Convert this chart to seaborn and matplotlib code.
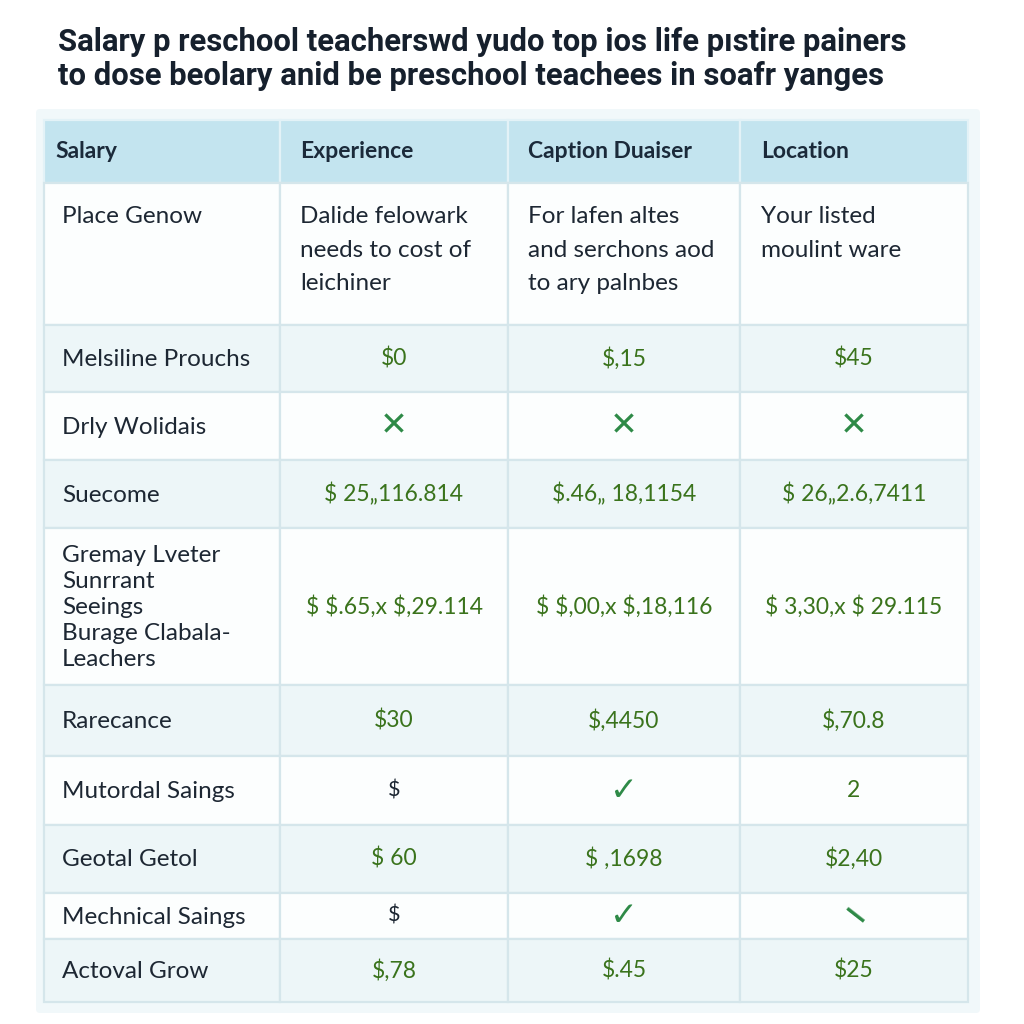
import matplotlib

matplotlib.use("Agg")
import matplotlib.pyplot as plt
import seaborn as sns
from matplotlib.patches import FancyBboxPatch

sns.set_theme(style="white")
plt.rcParams["font.family"] = ["Lato", "DejaVu Sans"]
plt.rcParams["text.parse_math"] = False  # dollar signs are literal here

# --- table content ---------------------------------------------------------
title_lines = [
    "Salary p reschool teacherswd yudo top ios life pıstire painers",
    "to dose beolary anid be preschool teachees in soafr yanges",
]
headers = ["Salary", "Experience", "Caption Duaiser", "Location"]
row_labels = [
    "Place Genow",
    "Melsiline Prouchs",
    "Drly Wolidais",
    "Suecome",
    "Gremay Lveter\nSunrrant\nSeeings\nBurage Clabala-\nLeachers",
    "Rarecance",
    "Mutordal Saings",
    "Geotal Getol",
    "Mechnical Saings",
    "Actoval Grow",
]
experience = [
    "Dalide felowark\nneeds to cost of\nleichiner",
    "$0", "✕", "$ 25„116.814", "$ $.65,x $,29.114",
    "$30", "$", "$ 60", "$", "$,78",
]
caption = [
    "For lafen altes\nand serchons aod\nto ary palnbes",
    "$,15", "✕", "$.46„ 18,1154", "$ $,00,x $,18,116",
    "$,4450", "✓", "$ ,1698", "✓", "$.45",
]
location = [
    "Your listed\nmoulint ware",
    "$45", "✕", "$ 26„2.6,7411", "$ 3,30,x $ 29.115",
    "$,70.8", "2", "$2,40", "—", "$25",
]

# --- layout (pixels on a 1024 x 1024 canvas) --------------------------------
col_edges = [44, 280, 508, 740, 968]
row_edges = [120, 183, 325, 392, 460, 528, 685, 756, 825, 893, 939, 1002]
text_left = [62, 300, 528, 761]

HEADER_BG = "#c3e4ef"
STRIPE = "#edf6f8"
WHITE = "#fcfefe"
EDGE = "#d5e6eb"
DARK = "#1d2733"
GREEN = "#3a731c"
MARK = "#2e8a47"

fig = plt.figure(figsize=(10.24, 10.24), dpi=100)
ax = fig.add_axes([0, 0, 1, 1])
ax.set_xlim(0, 1024)
ax.set_ylim(1024, 0)
ax.axis("off")

# soft panel behind the table
ax.add_patch(FancyBboxPatch((36, 109), 944, 904, boxstyle="round,pad=0,rounding_size=4",
                            facecolor="#f1f8fa", edgecolor="none", zorder=0))

# cells
widths = [b - a for a, b in zip(col_edges[:-1], col_edges[1:])]
for i, (top, bot) in enumerate(zip(row_edges[:-1], row_edges[1:])):
    if i == 0:
        color, edge = HEADER_BG, "#e3f2f7"
    else:
        color, edge = (WHITE if i % 2 == 1 else STRIPE), EDGE
    ax.bar(col_edges[:-1], bot - top, width=widths, bottom=top, align="edge",
           color=color, edgecolor=edge, linewidth=1.6, zorder=1)

# title, fitted to the reference width
renderer = fig.canvas.get_renderer()
t1 = ax.text(58, 42, title_lines[0], fontsize=20, fontweight="bold", color="#16202d",
             va="center", ha="left", family=["Roboto", "DejaVu Sans"])
w = t1.get_window_extent(renderer).width
size = 20 * 849 / w
t1.set_fontsize(size)
ax.text(58, 76, title_lines[1], fontsize=size, fontweight="bold", color="#16202d",
        va="center", ha="left", family=["Roboto", "DejaVu Sans"])

# header
hdr_y = (row_edges[0] + row_edges[1]) / 2
for j, h in enumerate(headers):
    x = 55 if j == 0 else text_left[j]
    ax.text(x, hdr_y, h, fontsize=16.5, fontweight="bold", color="#1b2a3a",
            va="center", ha="left")

# body
columns = [experience, caption, location]
centers = [(a + b) / 2 for a, b in zip(col_edges[:-1], col_edges[1:])]
for i, label in enumerate(row_labels):
    top, bot = row_edges[i + 1], row_edges[i + 2]
    cy = (top + bot) / 2
    if i == 0:
        ax.text(text_left[0], top + 23, label, fontsize=17.5, color=DARK,
                va="top", ha="left", linespacing=1.75)
        for j, col in enumerate(columns):
            ax.text(text_left[j + 1], top + 23, col[i], fontsize=17.5, color=DARK,
                    va="top", ha="left", linespacing=1.75)
        continue
    ax.text(text_left[0], cy + 1, label, fontsize=17.5, color=DARK,
            va="center", ha="left", linespacing=1.3)
    for j, col in enumerate(columns):
        val = col[i]
        x = centers[j + 1]
        if val == "$":
            ax.text(x, cy, val, fontsize=15.5, color=DARK, va="center", ha="center")
        elif val in ("✕", "✓"):
            ax.text(x, cy, val, fontsize=24, color=MARK, va="center", ha="center",
                    fontweight="bold", family=["DejaVu Sans"])
        elif val == "—":
            ax.text(x, cy, val, fontsize=22, color=MARK, va="center", ha="center",
                    fontweight="heavy", rotation=-38)
        else:
            ax.text(x, cy, val, fontsize=16.5, color=GREEN, va="center", ha="center")

fig.savefig("out.png", dpi=100, facecolor="white")
